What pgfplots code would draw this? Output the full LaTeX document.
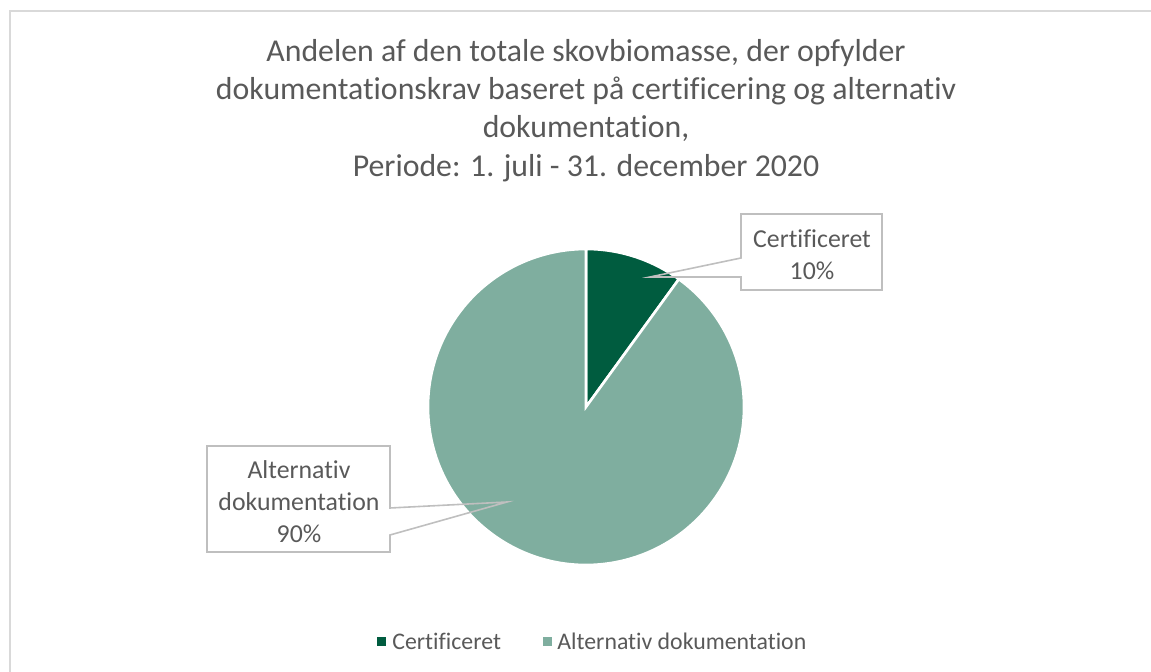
\documentclass[border=0pt]{standalone}
\usepackage{pgfplots}
\usepackage{pgfplotstable}
\pgfplotsset{compat=1.18}
\usepackage{fontspec}
\setmainfont[Ligatures={NoCommon},RawFeature={-liga;-dlig}]{Carlito}
\definecolor{darkg}{HTML}{005C3F}
\definecolor{lightg}{HTML}{7FAE9F}
\definecolor{txt}{HTML}{595959}
\definecolor{bord}{HTML}{D9D9D9}
\definecolor{callout}{HTML}{BFBFBF}
\pgfplotstableread{
label value
Certificeret 10
Alternativ 90
}\piedata
\begin{document}
\begin{tikzpicture}
\pgfplotstablegetelem{0}{value}\of\piedata \let\va\pgfplotsretval
\pgfplotstablegetelem{1}{value}\of\piedata \let\vb\pgfplotsretval
\begin{axis}[width=575.5pt,height=336pt,scale only axis,hide axis,
  xmin=0,xmax=1151,ymin=0,ymax=672,y dir=reverse,clip=false]
\path[use as bounding box] (axis cs:0,0) rectangle (axis cs:1151,672);
\draw[bord,line width=1pt] (axis cs:10,672) -- (axis cs:10,11) -- (axis cs:1151,11);
% title
\begin{scope}[every node/.style={anchor=base,text=txt,font=\fontsize{15.9}{19}\selectfont,inner sep=0pt}]
\node at (axis cs:586,62) {Andelen af den totale skovbiomasse, der opfylder};
\node at (axis cs:586,100) {dokumentationskrav baseret på certificering og alternativ};
\node at (axis cs:586,138) {dokumentation,};
\node at (axis cs:586,177) {Periode: 1. juli - 31. december 2020};
\end{scope}
% pie
\fill[darkg,draw=white,line width=1.3pt,line join=miter]
  (axis cs:586,407) -- ++(90:79pt) arc[start angle=90,end angle={90-3.6*\va},radius=79pt] -- cycle;
\fill[lightg,draw=white,line width=1.3pt,line join=miter]
  (axis cs:586,407) -- ++({90-3.6*\va}:79pt) arc[start angle={90-3.6*\va},end angle={90-3.6*\va-3.6*\vb},radius=79pt] -- cycle;
% callouts
\draw[callout,line width=0.8pt] (axis cs:741,214) -- (axis cs:882,214) -- (axis cs:882,290) -- (axis cs:741,290)
  -- (axis cs:741,277) -- (axis cs:650,277) -- (axis cs:741,258) -- cycle;
\draw[callout,line width=0.8pt] (axis cs:207,446) -- (axis cs:390,446) -- (axis cs:390,508) -- (axis cs:507,502)
  -- (axis cs:390,535) -- (axis cs:390,552) -- (axis cs:207,552) -- cycle;
\begin{scope}[every node/.style={anchor=base,text=txt,font=\fontsize{12.9}{15}\selectfont,inner sep=0pt}]
\node at (axis cs:812,248) {Certificeret};
\node at (axis cs:812,280) {10\%};
\node at (axis cs:299,479) {Alternativ};
\node at (axis cs:299,511) {dokumentation};
\node at (axis cs:299,543) {90\%};
\end{scope}
% legend
\fill[darkg] (axis cs:377,637) rectangle (axis cs:386,646);
\fill[lightg] (axis cs:543,637) rectangle (axis cs:552,646);
\begin{scope}[every node/.style={anchor=base west,text=txt,font=\fontsize{11.9}{14}\selectfont,inner sep=0pt}]
\node at (axis cs:392,650) {Certificeret};
\node at (axis cs:557,650) {Alternativ dokumentation};
\end{scope}
\end{axis}
\end{tikzpicture}
\end{document}
